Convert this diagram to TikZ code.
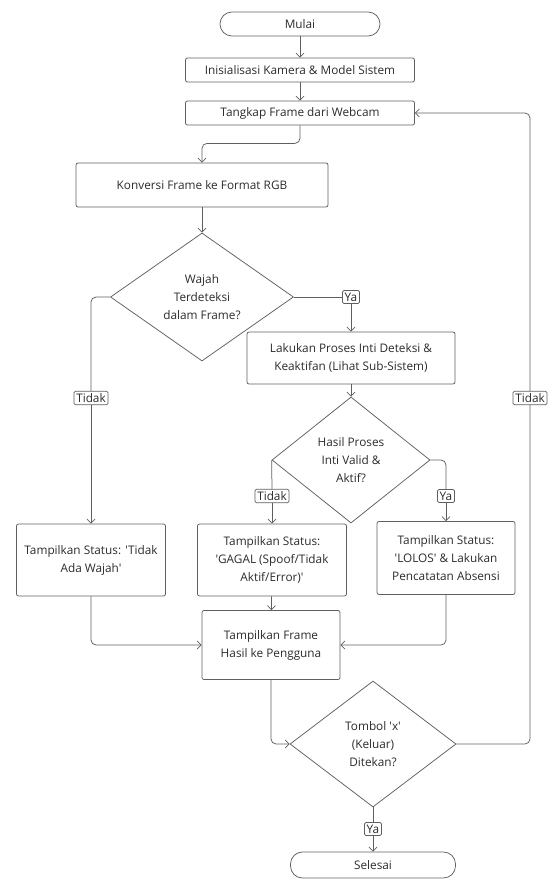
\documentclass[tikz,border=0pt]{standalone}
\usepackage{fontspec}
\setmainfont{Open Sans}[Ligatures=TeXOff]
\usetikzlibrary{shapes.geometric,arrows.meta}
\definecolor{linegray}{HTML}{5F5F5F}
\definecolor{textgray}{HTML}{2B2B2B}

\begin{document}
\begin{tikzpicture}[x=1pt, y=-1pt,
  font=\fontsize{11.8}{18}\selectfont, text=textgray,
  box/.style={draw=linegray, line width=0.75pt, rounded corners=2pt, align=center, inner sep=0pt},
  term/.style={box, rounded corners=12pt},
  decision/.style={diamond, draw=linegray, line width=0.75pt, align=center, inner sep=0pt},
  tag/.style={draw=linegray, line width=0.75pt, fill=white, rounded corners=1.5pt, inner sep=2.3pt},
  line/.style={draw=linegray, line width=0.75pt, rounded corners=5pt},
  flow/.style={line, -{Straight Barb[length=4pt, width=8pt]}}]
  \useasboundingbox (0, 0) rectangle (551, 891);

  \node[term, minimum width=160pt, minimum height=24pt] (mulai) at (300, 24) {Mulai};
  \node[box, minimum width=229pt, minimum height=24pt] (init) at (300, 70) {Inisialisasi Kamera \& Model Sistem};
  \node[box, minimum width=229pt, minimum height=24pt] (tangkap) at (300, 113) {Tangkap Frame dari Webcam};
  \node[box, minimum width=252pt, minimum height=44pt] (konversi) at (202, 185) {Konversi Frame ke Format RGB};
  \node[decision, minimum width=183pt, minimum height=128pt] (wajah) at (202, 297) {Wajah\\Terdeteksi\\dalam Frame?};
  \node[box, minimum width=208pt, minimum height=52pt] (proses) at (351, 358) {Lakukan Proses Inti Deteksi \&\\Keaktifan (Lihat Sub-Sistem)};
  \node[decision, minimum width=158pt, minimum height=126pt] (valid) at (351, 460) {Hasil Proses\\Inti Valid \&\\Aktif?};

  \node[box, minimum width=149pt, minimum height=72pt] (nowajah) at ( 91, 560) {Tampilkan Status: 'Tidak\\Ada Wajah'};
  \node[box, minimum width=149pt, minimum height=72pt] (gagal)   at (272, 560) {Tampilkan Status:\\'GAGAL (Spoof/Tidak\\Aktif/Error)'};
  \node[box, minimum width=138pt, minimum height=73pt] (lolos)   at (446, 558) {Tampilkan Status:\\'LOLOS' \& Lakukan\\Pencatatan Absensi};
  \node[box, minimum width=138pt, minimum height=69pt] (frame)   at (271, 645) {Tampilkan Frame\\Hasil ke Pengguna};
  \node[decision, minimum width=166pt, minimum height=126pt] (tombol) at (373, 744) {Tombol 'x'\\(Keluar)\\Ditekan?};
  \node[term, minimum width=165pt, minimum height=26pt] (selesai) at (373, 865) {Selesai};

  \node[tag] (ya1)    at (351, 297) {Ya};
  \node[tag] (tidak1) at ( 91, 398) {Tidak};
  \node[tag] (tidak2) at (272, 496) {Tidak};
  \node[tag] (ya2)    at (446, 496) {Ya};
  \node[tag] (ya3)    at (373, 829) {Ya};
  \node[tag] (tidak3) at (530, 398) {Tidak};

  \draw[flow] (mulai) -- (init);
  \draw[flow] (init) -- (tangkap);
  \draw[flow] (tangkap.south) -- ++(0, 18) -| (konversi.north);
  \draw[flow] (konversi) -- (wajah);

  \draw[line] (wajah.east) -- (ya1.west);
  \draw[flow] (ya1) -- (proses);
  \draw[line] (wajah.west) -| (tidak1.north);
  \draw[flow] (tidak1) -- (nowajah);

  \draw[flow] (proses) -- (valid);
  \draw[line] (valid.west) -- (tidak2.north);
  \draw[flow] (tidak2) -- (gagal);
  \draw[line] (valid.east) -| (ya2.north);
  \draw[flow] (ya2) -- (lolos);

  \draw[flow] (nowajah.south) |- (frame.west);
  \draw[flow] (gagal) -- (frame);
  \draw[flow] (lolos.south) |- (frame.east);
  \draw[flow] (frame.south) |- (tombol.west);

  \draw[line] (tombol.south) -- (ya3);
  \draw[flow] (ya3) -- (selesai);
  \draw[line] (tombol.east) -| (tidak3.south);
  \draw[flow] (tidak3.north) |- (tangkap.east);
\end{tikzpicture}
\end{document}
